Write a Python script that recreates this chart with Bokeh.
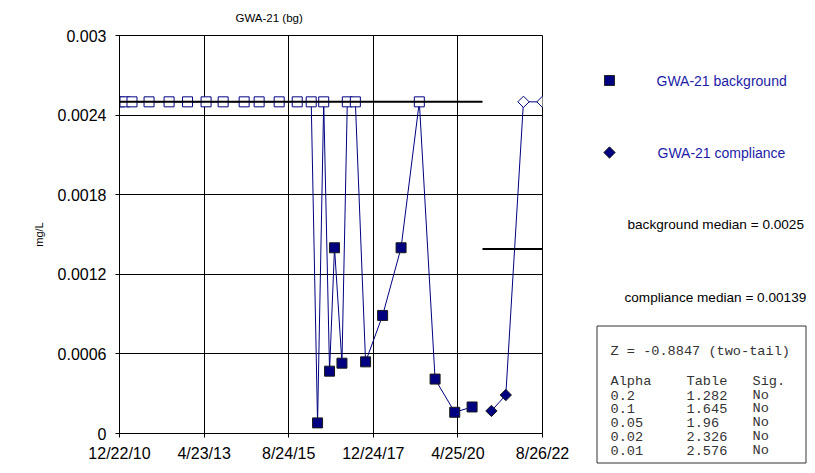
import math
from datetime import datetime
from bokeh.plotting import figure
from bokeh.layouts import row
from bokeh.models import Range1d, FixedTicker
from bokeh.core.properties import value
from bokeh.embed import file_html
from bokeh.resources import INLINE

# ---------------- data ----------------
title_text = "GWA-21 (bg)"
y_label = "mg/L"

bg_dates = ["2010-12-22", "2011-02-15", "2011-04-27", "2011-10-16", "2012-05-05",
            "2012-11-07", "2013-05-13", "2013-11-01", "2014-06-01", "2014-10-30",
            "2015-05-20", "2015-11-18", "2016-04-07", "2016-06-10", "2016-08-11",
            "2016-10-09", "2016-11-28", "2017-02-11", "2017-04-06", "2017-06-26",
            "2017-10-07", "2018-03-28", "2018-09-30", "2019-04-02", "2019-09-08",
            "2020-03-24", "2020-09-15"]
bg_values = [0.0025, 0.0025, 0.0025, 0.0025, 0.0025,
             0.0025, 0.0025, 0.0025, 0.0025, 0.0025,
             0.0025, 0.0025, 0.0025, 0.00008, 0.0025,
             0.00047, 0.0014, 0.00053, 0.0025, 0.0025,
             0.00054, 0.00089, 0.0014, 0.0025, 0.00041,
             0.00016, 0.00020]
bg_nondetect = [True, True, True, True, True,
                True, True, True, True, True,
                True, True, True, False, True,
                False, False, False, True, True,
                False, False, False, True, False,
                False, False]

comp_dates = ["2021-03-29", "2021-08-21", "2022-02-15", "2022-08-26"]
comp_values = [0.00017, 0.00029, 0.0025, 0.0025]
comp_nondetect = [False, False, True, True]

bg_median = 0.0025
comp_median = 0.00139
median_split = "2020-12-29"

x_ticks = ["2010-12-22", "2013-04-23", "2015-08-24", "2017-12-24", "2020-04-25", "2022-08-26"]
x_tick_labels = ["12/22/10", "4/23/13", "8/24/15", "12/24/17", "4/25/20", "8/26/22"]
y_ticks = [0, 0.0006, 0.0012, 0.0018, 0.0024, 0.003]
y_tick_labels = ["0", "0.0006", "0.0012", "0.0018", "0.0024", "0.003"]

legend_labels = ["GWA-21 background", "GWA-21 compliance"]
median_labels = ["background median = 0.0025", "compliance median = 0.00139"]
z_line = "Z = -0.8847 (two-tail)"
table_header = ["Alpha", "Table", "Sig."]
alphas = ["0.2", "0.1", "0.05", "0.02", "0.01"]
table_vals = ["1.282", "1.645", "1.96", "2.326", "2.576"]
sig_vals = ["No", "No", "No", "No", "No"]

# ---------------- helpers ----------------
EPOCH = datetime(1970, 1, 1)


def ms(s):
    return (datetime.strptime(s, "%Y-%m-%d") - EPOCH).total_seconds() * 1000.0


FONT = "Liberation Sans"
MONO = "Liberation Mono"
NAVY = "#000080"
LEG_BLUE = "#1c1ca8"
H = 465
W_MAIN = 575
W_SIDE = 232

# ---------------- main figure ----------------
x0, x1 = ms(x_ticks[0]), ms(x_ticks[-1])
p = figure(width=W_MAIN, height=H, output_backend="svg", toolbar_location=None,
           x_range=Range1d(x0, x1), y_range=Range1d(y_ticks[0], y_ticks[-1]),
           min_border_left=119, min_border_right=W_MAIN - 542,
           min_border_top=35, min_border_bottom=H - 433)
p.frame_align = False
p.background_fill_color = "white"
p.border_fill_color = "white"
p.outline_line_color = "black"
p.outline_line_width = 1

p.title.text = title_text
p.title.text_font = FONT
p.title.text_font_size = "11.5px"
p.title.text_font_style = "normal"
p.title.text_color = "black"
p.title.align = "left"
p.title.offset = 116
p.title.standoff = 19
p.title.vertical_align = "top"

xt = [ms(d) for d in x_ticks]
p.xaxis.ticker = FixedTicker(ticks=xt)
p.xgrid.ticker = FixedTicker(ticks=xt)
p.xaxis.major_label_overrides = {t: l for t, l in zip(xt, x_tick_labels)}
p.yaxis.ticker = FixedTicker(ticks=y_ticks)
p.ygrid.ticker = FixedTicker(ticks=y_ticks)
p.yaxis.major_label_overrides = {t: l for t, l in zip(y_ticks, y_tick_labels)}

for ax in (p.xaxis[0], p.yaxis[0]):
    ax.axis_line_color = "black"
    ax.major_tick_line_color = "black"
    ax.major_tick_out = 4
    ax.major_tick_in = 0
    ax.minor_tick_line_color = None
    ax.major_label_text_font = FONT
    ax.major_label_text_font_size = "16px"
    ax.major_label_text_color = "black"
p.xaxis.major_label_standoff = 7
p.yaxis.major_label_standoff = 9
p.yaxis.axis_label = y_label
p.yaxis.axis_label_text_font = FONT
p.yaxis.axis_label_text_font_size = "11px"
p.yaxis.axis_label_text_font_style = "normal"
p.yaxis.axis_label_text_color = "black"
p.yaxis.axis_label_standoff = 10

for g in (p.xgrid[0], p.ygrid[0]):
    g.grid_line_color = "black"
    g.grid_line_alpha = 1
    g.grid_line_width = 1

# ---------------- series ----------------
bx = [ms(d) for d in bg_dates]
cx = [ms(d) for d in comp_dates]

p.line(bx, bg_values, line_color=NAVY, line_width=1)
p.line(cx, comp_values, line_color=NAVY, line_width=1)

bdx = [x for x, nd in zip(bx, bg_nondetect) if not nd]
bdy = [v for v, nd in zip(bg_values, bg_nondetect) if not nd]
bnx = [x for x, nd in zip(bx, bg_nondetect) if nd]
bny = [v for v, nd in zip(bg_values, bg_nondetect) if nd]
cdx = [x for x, nd in zip(cx, comp_nondetect) if not nd]
cdy = [v for v, nd in zip(comp_values, comp_nondetect) if not nd]
cnx = [x for x, nd in zip(cx, comp_nondetect) if nd]
cny = [v for v, nd in zip(comp_values, comp_nondetect) if nd]

p.scatter(bnx, bny, marker="square", size=10, fill_color="white", line_color=NAVY, line_width=1)
p.scatter(bdx, bdy, marker="square", size=10, fill_color=NAVY, line_color="#1a1a1a", line_width=1)
p.scatter(cnx, cny, marker="square", angle=math.pi / 4, size=8, fill_color="white",
          line_color=NAVY, line_width=1)
p.scatter(cdx, cdy, marker="square", angle=math.pi / 4, size=8, fill_color=NAVY,
          line_color="#1a1a1a", line_width=1)

split = ms(median_split)
p.line([x0, split], [bg_median, bg_median], line_color="black", line_width=2)
p.line([split, x1], [comp_median, comp_median], line_color="black", line_width=2)

# ---------------- side panel (legend + statistics) ----------------
# the side figure's ranges are page pixels, so positions below are layout only
s = figure(width=W_SIDE, height=H, output_backend="svg", toolbar_location=None,
           x_range=Range1d(W_MAIN, W_MAIN + W_SIDE), y_range=Range1d(H, 0),
           x_axis_location=None, y_axis_location=None, min_border=0)
s.frame_align = False
s.grid.visible = False
s.outline_line_color = None
s.background_fill_color = "white"
s.border_fill_color = "white"

s.scatter([609], [80], marker="square", size=10, fill_color=NAVY, line_color="#222222")
s.scatter([609], [152], marker="square", angle=math.pi / 4, size=8, fill_color=NAVY,
          line_color="#222222")
s.text([656, 657], [80, 152], text=legend_labels, text_font=value(FONT),
       text_font_size="14px", text_color=LEG_BLUE, text_baseline="middle", text_align="left")
s.text([627, 624], [224, 297], text=median_labels, text_font=value(FONT),
       text_font_size="13.6px", text_color="black", text_baseline="middle", text_align="left")

s.quad(left=[596.5], right=[805.5], top=[325.5], bottom=[462.5], fill_color="white",
       line_color="#333333", line_width=1)

TXT = "#333333"
cols = [610, 686, 752]
rows_y = [394.5 + i * 13.9 for i in range(len(alphas))]
tx = [cols[0]] + cols + [cols[0]] * len(alphas) + [cols[1]] * len(alphas) + [cols[2]] * len(alphas)
ty = [351] + [380.5] * 3 + rows_y * 3
tt = [z_line] + table_header + alphas + table_vals + sig_vals
s.text(tx, ty, text=tt, text_font=value(MONO), text_font_size="13.6px", text_color=TXT,
       text_baseline="middle", text_align="left")

layout = row(p, s)
open("out.html", "w").write(file_html(layout, INLINE))
